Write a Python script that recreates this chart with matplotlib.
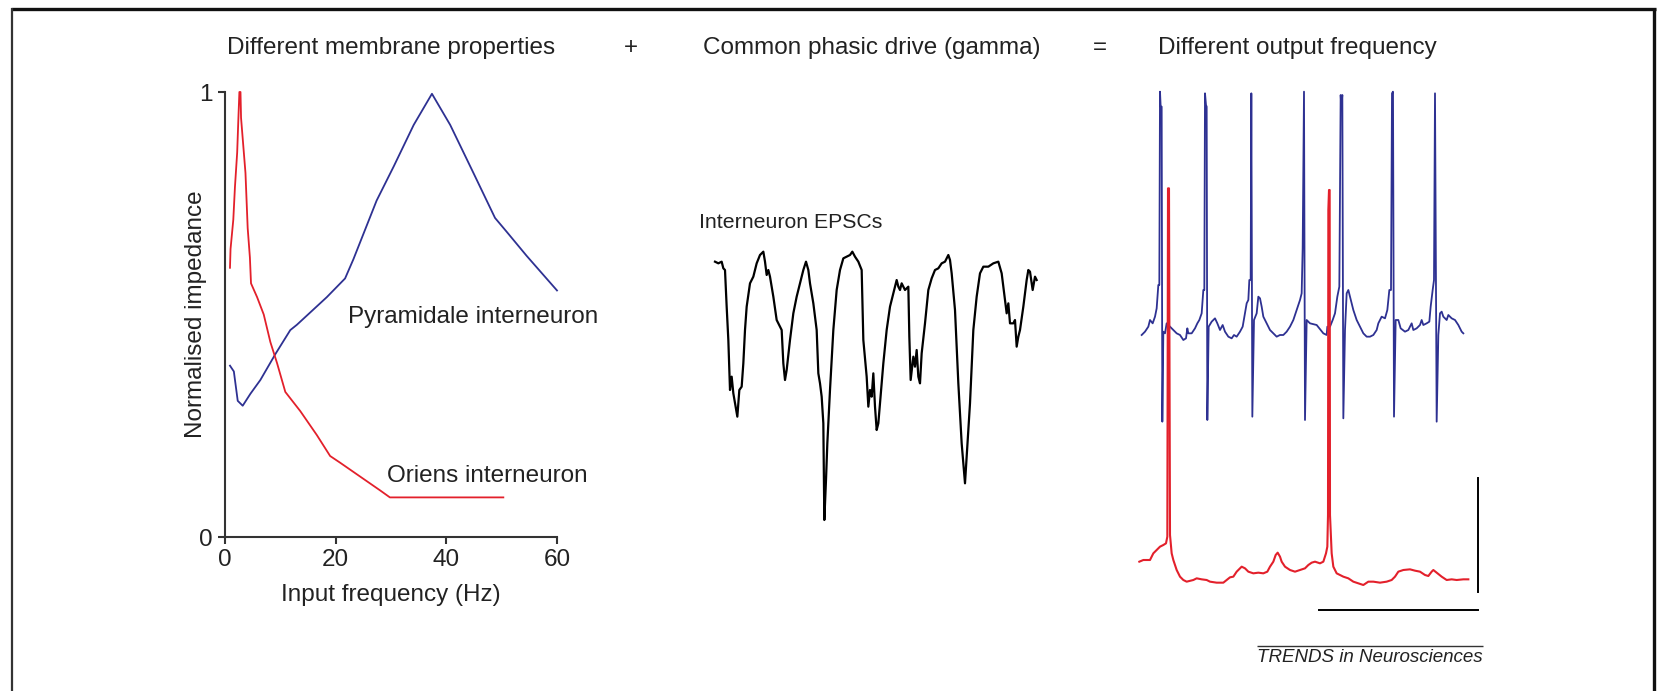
import matplotlib
matplotlib.use("Agg")
import matplotlib.pyplot as plt
from matplotlib.lines import Line2D

plt.rcParams['font.family'] = ['Liberation Sans', 'DejaVu Sans']

W, H = 1658, 691
BLUE = '#2e3192'
RED = '#e3202b'
INK = '#222222'

# impedance curves (normalised)
pyr_freq = [0.9, 1.6, 2.3, 3.2, 4.6, 6.4, 9.1, 11.8, 13.0, 18.4, 21.7, 23.2, 27.4,
            30.5, 34.1, 37.4, 40.7, 44.9, 48.8, 50.9, 54.5, 60.0]
pyr_imp = [0.385, 0.372, 0.306, 0.295, 0.322, 0.353, 0.411, 0.465, 0.477, 0.539, 0.581,
           0.624, 0.756, 0.833, 0.926, 0.996, 0.926, 0.818, 0.717, 0.686, 0.632, 0.554]

ori_freq = [0.9, 1.0, 1.5, 1.8, 2.2, 2.4, 2.6, 2.8, 2.9, 3.3, 3.7, 4.1, 4.5, 4.7, 5.8,
            7.0, 8.2, 9.4, 10.9, 13.6, 16.6, 19.0, 20.8, 24.4, 28.0, 29.8, 50.3]
ori_imp = [0.605, 0.647, 0.713, 0.787, 0.864, 0.934, 1.0, 1.0, 0.942, 0.880, 0.818,
           0.694, 0.628, 0.570, 0.539, 0.500, 0.438, 0.391, 0.326, 0.283, 0.229, 0.182,
           0.167, 0.136, 0.105, 0.089, 0.089]

# interneuron EPSC trace (time, deflection downwards), arbitrary units
epsc_t = [105, 115, 125, 130, 135, 140, 145, 150, 155, 160, 165, 172, 178, 185, 190,
          195, 200, 210, 220, 230, 240, 250, 255, 260, 265, 270, 280, 290, 300, 305,
          310, 315, 320, 330, 340, 350, 360, 370, 378, 385, 390, 400, 410, 415, 420,
          425, 430, 433, 438, 442, 450, 460, 470, 480, 490, 500, 510, 517, 525, 535,
          545, 550, 560, 565, 570, 575, 580, 585, 590, 595, 600, 610, 620, 630, 640,
          650, 655, 660, 665, 675, 685, 688, 692, 700, 705, 710, 715, 720, 725, 735,
          745, 755, 765, 775, 785, 795, 805, 810, 815, 825, 835, 845, 855, 860, 870,
          880, 890, 900, 910, 925, 940, 955, 965, 975, 980, 985, 990, 1000, 1005, 1010,
          1015, 1020, 1030, 1040, 1045, 1050, 1058, 1065, 1070]
epsc_y = [215, 220, 215, 235, 240, 350, 450, 600, 560, 610, 640, 680, 600, 590, 520,
          420, 350, 280, 260, 220, 195, 185, 215, 255, 240, 260, 320, 390, 410, 420,
          520, 570, 540, 450, 370, 320, 280, 240, 215, 240, 280, 340, 420, 550, 580,
          620, 700, 990, 870, 760, 600, 420, 300, 240, 205, 200, 195, 185, 200, 215,
          240, 450, 560, 650, 600, 620, 550, 650, 720, 700, 640, 520, 420, 350, 310,
          270, 290, 300, 280, 300, 290, 440, 570, 500, 530, 480, 560, 580, 490, 400,
          300, 265, 240, 235, 220, 215, 195, 210, 250, 360, 580, 760, 880, 800, 640,
          420, 320, 250, 230, 230, 220, 215, 250, 330, 370, 340, 400, 400, 390, 470,
          440, 420, 350, 270, 240, 245, 300, 260, 270]

# pyramidale interneuron membrane potential (blue), arbitrary units, y downwards
pyr_t = [95, 105, 115, 120, 128, 135, 140, 145, 148, 150, 152, 155, 157, 160, 165,
         170, 175, 180, 190, 200, 210, 220, 228, 232, 235, 245, 255, 262, 268, 275,
         280, 283, 285, 288, 290, 292, 296, 305, 315, 322, 330, 338, 345, 355, 365,
         372, 380, 390, 398, 405, 410, 415, 418, 422, 424, 427, 432, 440, 445, 450,
         455, 460, 470, 480, 490, 500, 510, 520, 530, 540, 550, 560, 570, 575, 578,
         582, 585, 590, 600, 620, 640, 650, 652, 660, 668, 675, 682, 688, 692, 694,
         697, 700, 705, 710, 715, 720, 730, 740, 750, 760, 770, 780, 790, 800, 805,
         815, 825, 832, 838, 843, 846, 849, 852, 857, 865, 872, 885, 895, 900, 905,
         910, 920, 930, 935, 940, 950, 958, 962, 968, 972, 975, 980, 985, 990, 995,
         1000, 1010, 1015, 1020, 1025, 1035, 1045, 1055, 1060]
pyr_v = [765, 755, 740, 720, 730, 710, 685, 615, 615, 35, 80, 80, 1025, 755, 760,
         730, 735, 740, 750, 760, 765, 780, 775, 745, 760, 760, 745, 730, 720, 700,
         630, 630, 40, 75, 80, 1020, 740, 725, 715, 730, 750, 735, 755, 770, 775,
         765, 770, 755, 740, 700, 670, 660, 600, 600, 40, 1010, 720, 700, 650, 655,
         680, 710, 730, 750, 760, 770, 765, 765, 755, 740, 720, 690, 660, 640, 505,
         35, 1020, 720, 730, 735, 760, 765, 740, 740, 720, 700, 650, 620, 45, 80,
         45, 1015, 750, 640, 630, 650, 690, 720, 740, 760, 770, 770, 765, 750, 730,
         710, 715, 690, 630, 630, 40, 35, 1010, 720, 720, 745, 755, 750, 740, 730,
         750, 745, 735, 720, 735, 730, 725, 680, 630, 600, 40, 1025, 765, 700, 695,
         710, 720, 705, 710, 715, 720, 735, 755, 760]

# oriens interneuron membrane potential (red), same units
ori_t = [88, 100, 120, 130, 140, 150, 160, 168, 172, 174, 177, 180, 185, 190, 200,
         210, 220, 230, 250, 260, 275, 290, 300, 320, 340, 350, 360, 370, 380, 390,
         395, 405, 415, 430, 445, 460, 472, 480, 490, 497, 503, 510, 515, 525, 540,
         555, 570, 585, 595, 605, 615, 630, 640, 648, 652, 654, 655, 657, 659, 660,
         665, 670, 680, 690, 700, 715, 730, 745, 760, 775, 790, 810, 830, 845, 855,
         865, 880, 900, 915, 930, 945, 955, 965, 970, 980, 995, 1010, 1025, 1040, 1060,
         1075]
ori_v = [1445, 1440, 1440, 1420, 1410, 1400, 1395, 1390, 1370, 325, 325, 1365, 1420,
         1440, 1470, 1490, 1500, 1505, 1500, 1495, 1498, 1500, 1505, 1508, 1508, 1500,
         1492, 1490, 1475, 1465, 1460, 1465, 1475, 1480, 1478, 1480, 1475, 1460, 1445,
         1425, 1418, 1430, 1445, 1460, 1470, 1475, 1470, 1465, 1455, 1448, 1445, 1450,
         1445, 1420, 1400, 1305, 390, 330, 330, 1305, 1420, 1460, 1480, 1485, 1490,
         1495, 1505, 1510, 1515, 1505, 1505, 1508, 1505, 1500, 1490, 1475, 1470, 1468,
         1472, 1475, 1485, 1488, 1475, 1470, 1478, 1490, 1500, 1498, 1500, 1498, 1498]


def rect(x0, y0, x1, y1):
    # pixel box -> figure fraction [left, bottom, width, height]
    return [x0 / W, 1 - y1 / H, (x1 - x0) / W, (y1 - y0) / H]


def fig_line(fig, xs, ys, lw, color):
    fig.add_artist(Line2D([x / W for x in xs], [1 - y / H for y in ys],
                          transform=fig.transFigure, lw=lw, color=color,
                          solid_capstyle='butt'))


fig = plt.figure(figsize=(W / 100, H / 100), dpi=100)

# frame round the figure
fig_line(fig, [11, 1656], [8.5, 8.5], 2.4, '#111111')
fig_line(fig, [12, 12], [8, 691], 1.6, '#333333')
fig_line(fig, [1654, 1654], [8, 691], 2.4, '#111111')

# header row
fs = 17.5
fig.text(391 / W, 1 - 48 / H, 'Different membrane properties', ha='center', va='center',
         fontsize=fs, color=INK)
fig.text(631 / W, 1 - 48 / H, '+', ha='center', va='center', fontsize=fs, color=INK)
fig.text(872 / W, 1 - 48 / H, 'Common phasic drive (gamma)', ha='center', va='center',
         fontsize=fs, color=INK)
fig.text(1100 / W, 1 - 48 / H, '=', ha='center', va='center', fontsize=fs, color=INK)
fig.text(1297 / W, 1 - 48 / H, 'Different output frequency', ha='center', va='center',
         fontsize=fs, color=INK)

# left: impedance profiles
ax = fig.add_axes(rect(225, 92, 557, 537))
ax.plot(pyr_freq, pyr_imp, color=BLUE, lw=1.3, clip_on=False)
ax.plot(ori_freq, ori_imp, color=RED, lw=1.3, clip_on=False)
ax.set_xlim(0, 60)
ax.set_ylim(0, 1)
ax.set_xticks([0, 20, 40, 60])
ax.set_yticks([0, 1])
ax.set_yticklabels(['0', '1'])
for s in ['top', 'right']:
    ax.spines[s].set_visible(False)
for s in ['left', 'bottom']:
    ax.spines[s].set_color('#333333')
    ax.spines[s].set_linewidth(1.5)
ax.tick_params(direction='out', length=5, width=1.5, color='#333333',
               labelsize=fs, labelcolor=INK, pad=4)
ax.set_xlabel('Input frequency (Hz)', fontsize=fs, color=INK)
ax.set_ylabel('Normalised impedance', fontsize=fs, color=INK)
ax.xaxis.set_label_coords(0.5, -0.105)
ax.yaxis.set_label_coords(-0.054, 0.5)
ax.text(22.2, 0.495, 'Pyramidale interneuron', fontsize=fs, color=INK, va='center')
ax.text(29.3, 0.137, 'Oriens interneuron', fontsize=fs, color=INK, va='center')

# middle: EPSC trace
axm = fig.add_axes(rect(680, 190, 1050, 530))
axm.plot(epsc_t, epsc_y, color='black', lw=1.6)
axm.set_xlim(0, 1110)
axm.set_ylim(1020, 0)
axm.axis('off')
fig.text(699 / W, 1 - 223 / H, 'Interneuron EPSCs', ha='left', va='center',
         fontsize=15.3, color=INK)

# right: output firing
axr = fig.add_axes(rect(1110, 80, 1490, 680))
axr.plot(pyr_t, pyr_v, color=BLUE, lw=1.3)
axr.plot(ori_t, ori_v, color=RED, lw=1.5)
# scale bars
axr.plot([1103, 1103], [1195, 1535], color='black', lw=1.4)
axr.plot([628, 1105], [1590, 1590], color='black', lw=1.4)
axr.set_xlim(0, 1140)
axr.set_ylim(1800, 0)
axr.axis('off')

# journal footer
fig_line(fig, [1257, 1483], [646, 646], 1.0, '#333333')
fig.text(1370 / W, 1 - 658 / H, 'TRENDS in Neurosciences', ha='center', va='center',
         fontsize=13.5, style='italic', color=INK)

fig.savefig('out.png', dpi=100)
